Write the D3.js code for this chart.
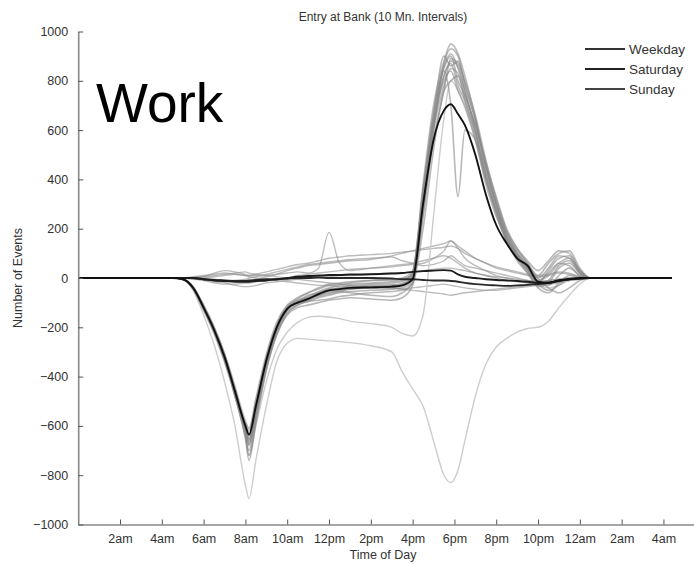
<!DOCTYPE html>
<html><head><meta charset="utf-8">
<script src="https://cdn.jsdelivr.net/npm/d3@7"></script>
<style>body{margin:0;background:#fff;} text{font-family:"Liberation Sans",Arial,sans-serif;}</style>
</head><body><svg id="c" width="694" height="564"></svg>
<script>
// time of day in hours (24+ = after midnight)
const hours = [0,4.5,5,5.5,6,6.5,7,7.5,8,8.17,8.5,9,9.5,10,10.5,11,11.5,12,12.5,13,14,15,15.5,16,16.5,17,17.5,17.83,18.17,18.5,19,19.5,20,20.5,21,21.5,22,22.5,23,23.5,24,24.5,28.4];
const xTickHours = [2,4,6,8,10,12,14,16,18,20,22,24,26,28];
const xTickLabels = ["2am","4am","6am","8am","10am","12pm","2pm","4pm","6pm","8pm","10pm","12am","2am","4am"];
const yTicks = [-1000,-800,-600,-400,-200,0,200,400,600,800,1000];

// mean series
const weekdayMean = [0,0,-5,-40,-120,-210,-320,-460,-600,-635,-520,-335,-200,-125,-100,-85,-65,-50,-45,-40,-38,-35,-30,-5,300,560,680,705,665,620,500,340,215,140,80,50,-15,-20,-10,-5,0,0,0];
const saturdayMean = [0,0,0,0,-5,-10,-12,-15,-15,-15,-12,-10,-5,0,5,8,10,12,12,14,15,18,20,25,28,30,32,30,15,5,0,-5,-8,-10,-12,-15,-20,-18,-10,-5,-2,0,0];
const sundayMean = [0,0,0,0,-5,-8,-10,-12,-12,-10,-8,-5,-5,-3,0,0,2,0,0,0,0,-2,-5,-5,-8,-10,-10,-12,-15,-20,-25,-28,-30,-32,-30,-28,-25,-20,-12,-5,-2,0,0];

// individual weekdays
const weekdayDays = [
 [0,0,-3,-35,-110,-200,-310,-450,-610,-660,-540,-350,-210,-130,-95,-70,-60,-45,-40,-30,-25,-20,-15,20,350,640,820,880,860,760,600,420,280,160,90,40,-20,30,80,90,30,0,0],
 [0,0,-6,-45,-130,-225,-340,-480,-640,-700,-560,-360,-220,-140,-110,-95,-80,-70,-60,-55,-50,-45,-40,-10,250,600,870,930,900,780,640,450,300,180,110,60,10,60,100,110,40,0,0],
 [0,0,-4,-38,-115,-205,-315,-455,-590,-620,-500,-320,-190,-115,-90,-80,-70,-60,-55,-60,-70,-75,-60,-20,280,620,800,840,760,700,560,380,250,150,70,20,-30,-10,50,70,20,0,0],
 [0,0,-5,-42,-125,-215,-330,-470,-620,-680,-550,-345,-205,-120,-85,-60,-45,-30,-25,-20,-10,-5,0,30,380,700,880,950,910,820,650,460,310,190,120,70,30,70,110,100,30,0,0],
 [0,0,-5,-40,-120,-210,-325,-465,-630,-720,-580,-370,-230,-150,-120,-110,-100,-90,-85,-80,-85,-90,-80,-30,200,520,760,800,820,720,580,400,260,150,80,30,-40,-60,-20,10,0,0,0],
 [0,0,-4,-36,-112,-198,-305,-440,-580,-610,-490,-310,-180,-110,-80,-60,-40,-25,-20,-15,-10,-10,-5,15,320,650,850,900,800,740,620,450,300,170,100,50,0,40,90,80,30,0,0],
 [0,0,-6,-44,-128,-220,-335,-475,-650,-740,-590,-375,-230,-145,-110,-90,-75,-65,-55,-45,-40,-35,-30,0,300,620,840,700,330,600,560,400,270,160,90,40,-10,20,60,50,10,0,0],
 [0,0,-5,-40,-118,-208,-318,-458,-605,-650,-530,-340,-205,-128,-100,-88,-70,-55,-50,-45,-35,-30,-25,5,330,600,780,850,830,740,620,470,330,200,120,60,-5,-40,-60,-40,-10,0,0],
 [0,0,-5,-41,-122,-212,-322,-462,-615,-675,-545,-350,-212,-132,-105,-95,-90,-85,-75,-70,-60,-55,-50,-20,260,560,760,890,870,800,660,480,320,190,100,40,-20,-30,10,40,10,0,0],
 [0,0,-4,-39,-117,-206,-312,-452,-598,-640,-515,-330,-198,-122,-95,-75,-55,-40,-30,-25,-20,-15,-10,25,360,670,860,910,850,760,600,420,270,150,80,20,-35,-20,40,60,20,0,0],
 [0,0,-5,-40,-120,-210,-320,-460,-612,-668,-538,-342,-206,-126,-98,-82,-66,-52,-46,-42,-40,-38,-32,10,340,660,900,860,880,790,640,460,300,170,100,50,-10,10,60,80,20,0,0],
 [0,0,-5,-40,-121,-211,-321,-461,-608,-655,-528,-338,-202,-124,-97,-80,-62,-48,-44,-38,-30,-28,-22,15,310,610,820,870,780,720,590,430,290,170,90,30,-25,-50,-30,0,0,0,0]
];
// two unusual days (very light)
const outlierDays = [
 [0,0,-5,-50,-150,-270,-420,-600,-840,-895,-740,-520,-340,-265,-245,-248,-252,-255,-258,-262,-275,-300,-380,-450,-520,-660,-800,-830,-780,-660,-480,-350,-280,-245,-220,-205,-200,-175,-120,-70,-25,0,0],
 [0,0,-5,-42,-125,-220,-335,-480,-650,-720,-600,-420,-290,-220,-180,-160,-155,-158,-165,-175,-185,-200,-225,-235,-150,250,650,800,760,690,560,400,270,160,90,40,-20,-40,-30,-10,0,0,0]
];
// individual weekend days
const weekendDays = [
 [0,0,0,0,-5,-10,-15,-10,-5,0,5,10,15,20,25,20,40,185,60,30,40,50,55,60,70,80,90,80,60,40,20,10,0,-10,-15,-20,-25,-20,-10,-5,0,0,0],
 [0,0,0,5,10,15,20,15,10,10,15,25,35,45,55,60,70,80,85,90,95,100,105,110,120,130,140,150,130,110,80,60,40,30,20,10,5,10,20,15,5,0,0],
 [0,0,0,-5,-10,-20,-25,-25,-20,-20,-15,-10,-5,0,10,15,20,25,30,35,40,45,50,55,60,80,110,150,120,80,50,30,10,0,-10,-20,-30,-25,-15,-5,0,0,0],
 [0,0,0,2,5,10,15,20,25,20,15,10,5,0,-5,-10,-15,-20,-25,-30,-35,-40,-45,-50,-55,-60,-65,-70,-65,-60,-55,-50,-45,-40,-35,-30,-25,-20,-15,-10,-5,0,0],
 [0,0,0,0,5,20,30,25,15,10,10,15,25,35,45,55,60,65,70,75,80,85,70,60,50,55,70,90,70,50,40,30,20,10,0,-10,-15,-10,-5,0,0,0,0],
 [0,0,0,-3,-8,-15,-20,-30,-35,-35,-30,-20,-15,-10,-5,0,5,5,10,10,15,20,20,25,30,35,40,40,35,30,20,10,5,0,-5,-10,-15,-10,-5,0,0,0,0],
 [0,0,0,0,0,5,10,15,10,5,0,-5,-10,-15,-20,-25,-30,-30,-35,-35,-40,-40,-45,-40,-35,-30,-25,-30,-35,-40,-45,-50,-50,-45,-40,-35,-30,-25,-20,-10,-5,0,0],
 [0,0,0,0,-5,-5,-10,-10,-10,-10,-5,5,15,30,40,50,55,60,65,70,75,90,100,110,115,120,125,130,120,100,80,60,45,35,25,15,10,15,25,20,5,0,0]
];
const legendNames = ["Weekday","Saturday","Sunday"];
const titleText = "Entry at Bank (10 Mn. Intervals)";

const svg = d3.select("#c");
const x = d3.scaleLinear().domain([0,29.5]).range([78.2,694.8]);
const y = d3.scaleLinear().domain([-1000,1000]).range([524.5,31.5]);
const line = d3.line().x((d,i)=>x(hours[i])).y(d=>y(d)).curve(d3.curveMonotoneX);

const g = svg.append("g");
weekendDays.forEach(s=>g.append("path").attr("d",line(s)).attr("fill","none").attr("stroke","#8f8f8f").attr("stroke-opacity",0.6).attr("stroke-width",1.4));
outlierDays.forEach(s=>g.append("path").attr("d",line(s)).attr("fill","none").attr("stroke","#cdcdcd").attr("stroke-width",1.4));
weekdayDays.forEach(s=>g.append("path").attr("d",line(s)).attr("fill","none").attr("stroke","#888").attr("stroke-opacity",0.6).attr("stroke-width",1.6));
const meanColors = ["#111","#1c1c1c","#2a2a2a"];
[sundayMean, saturdayMean, weekdayMean].forEach((s,k)=>{
  const idx = 2-k;
  g.append("path").attr("d",line(s)).attr("fill","none").attr("stroke",meanColors[idx]).attr("stroke-width",1.9);
});

// axes
const axColor = "#888";
const xAxis = svg.append("g").attr("transform","translate(0,524.5)")
  .call(d3.axisBottom(x).tickValues(xTickHours).tickFormat((d,i)=>xTickLabels[i]).tickSizeInner(-5).tickSizeOuter(0).tickPadding(10));
const yAxis = svg.append("g").attr("transform","translate(78.2,0)")
  .call(d3.axisLeft(y).tickValues(yTicks).tickFormat(d=>d<0?"\u2212"+Math.abs(d):d).tickSizeInner(-5).tickSizeOuter(0).tickPadding(10));
[xAxis,yAxis].forEach(a=>{
  a.select(".domain").attr("stroke",axColor).attr("stroke-width",1.6);
  a.selectAll(".tick line").attr("stroke","#555").attr("stroke-width",1);
  a.selectAll(".tick text").attr("fill","#333").style("font-size","12.5px").style("font-family","'Liberation Sans',Arial,sans-serif");
});

// text
svg.append("text").attr("x",383).attr("y",21).attr("text-anchor","middle").attr("fill","#333").style("font-size","12px").text(titleText);
svg.append("text").attr("x",383).attr("y",559).attr("text-anchor","middle").attr("fill","#333").style("font-size","12.5px").text("Time of Day");
svg.append("text").attr("transform","translate(22,278) rotate(-90)").attr("text-anchor","middle").attr("fill","#333").style("font-size","12.5px").text("Number of Events");
svg.append("text").attr("x",96).attr("y",122).attr("fill","#000").style("font-size","55px").text("Work");

// legend
const lg = svg.append("g");
legendNames.forEach((n,i)=>{
  const yy = 49 + i*20;
  lg.append("line").attr("x1",585).attr("x2",625).attr("y1",yy).attr("y2",yy).attr("stroke",["#333","#222","#444"][i]).attr("stroke-width",1.8);
  lg.append("text").attr("x",629).attr("y",yy+5).attr("fill","#333").style("font-size","13.5px").text(n);
});
</script></body></html>
